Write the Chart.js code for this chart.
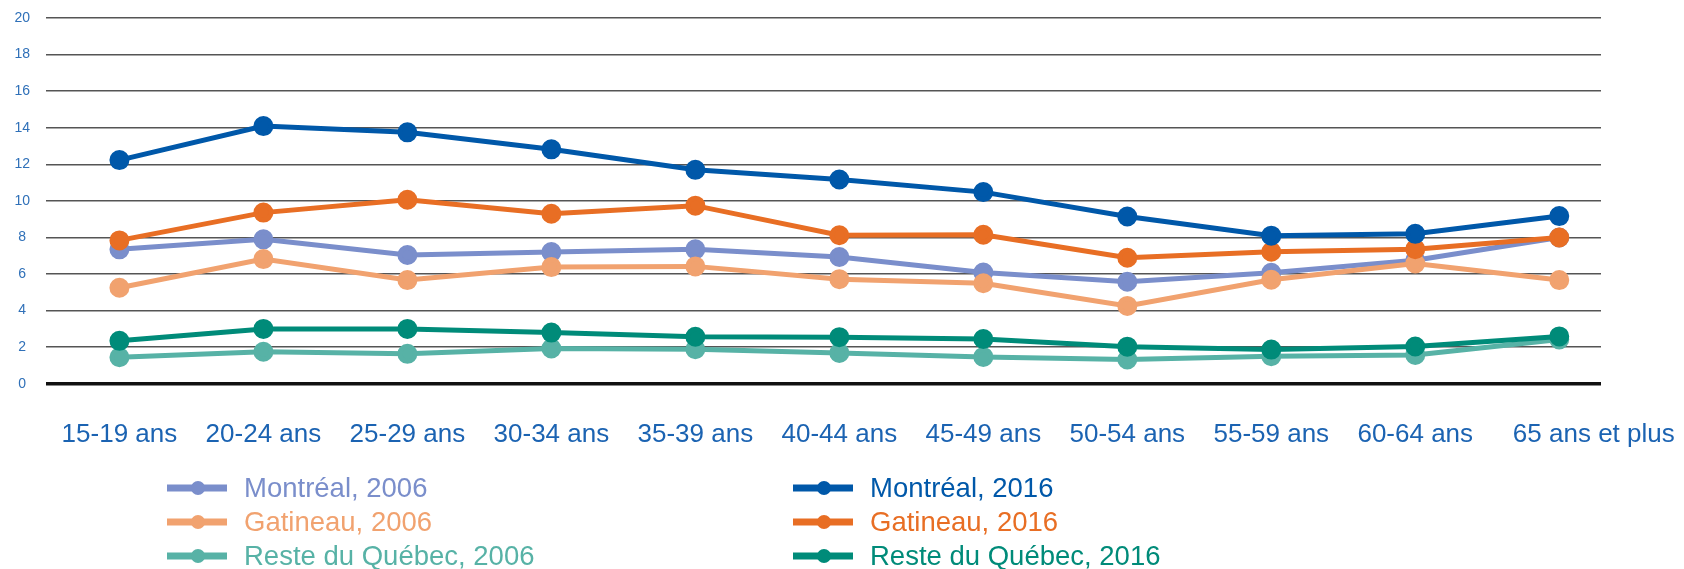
<!DOCTYPE html>
<html lang="fr">
<head>
<meta charset="utf-8">
<title>Taux par groupe d'âge</title>
<script src="https://cdn.jsdelivr.net/npm/chart.js@4"></script>
<style>
  body { margin: 0; background: #fff; }
  #wrap { position: relative; width: 1684px; height: 569px; overflow: hidden; }
  #legend { position: absolute; left: 0; top: 0; width: 1684px; height: 569px; pointer-events: none;
            font-family: "Liberation Sans", Arial, sans-serif; font-size: 27.5px; }
  .item { position: absolute; display: flex; align-items: center; height: 34px; white-space: nowrap; }
  .item canvas { margin-right: 17px; }
</style>
</head>
<body>
<div id="wrap">
  <canvas id="lineChart" width="1684" height="569"></canvas>
  <div id="legend"></div>
</div>
<script>
const categories = ["15-19 ans", "20-24 ans", "25-29 ans", "30-34 ans", "35-39 ans", "40-44 ans",
                    "45-49 ans", "50-54 ans", "55-59 ans", "60-64 ans", "65 ans et plus"];

const montreal2006 = [7.35, 7.9, 7.04, 7.2, 7.35, 6.93, 6.08, 5.58, 6.07, 6.75, 8.0];
const montreal2016 = [12.23, 14.09, 13.75, 12.82, 11.7, 11.17, 10.48, 9.15, 8.1, 8.2, 9.17];
const gatineau2006 = [5.25, 6.82, 5.67, 6.38, 6.42, 5.72, 5.5, 4.26, 5.69, 6.58, 5.67];
const gatineau2016 = [7.84, 9.36, 10.06, 9.3, 9.74, 8.12, 8.15, 6.89, 7.22, 7.36, 8.0];
const reste2006 = [1.45, 1.75, 1.64, 1.93, 1.89, 1.69, 1.47, 1.33, 1.51, 1.58, 2.42];
const reste2016 = [2.35, 3.0, 3.0, 2.8, 2.57, 2.55, 2.45, 2.03, 1.87, 2.04, 2.59];

const yMin = 0;
const yMax = 20;
const yStep = 2;

// legend is two columns: 2006 on the left, 2016 on the right
const series = [
  { label: "Montréal, 2006", data: montreal2006, color: "#7a8ecb", order: 6, col: 0, row: 0 },
  { label: "Gatineau, 2006", data: gatineau2006, color: "#f1a26f", order: 5, col: 0, row: 1 },
  { label: "Reste du Québec, 2006", data: reste2006, color: "#57b2a6", order: 4, col: 0, row: 2 },
  { label: "Montréal, 2016", data: montreal2016, color: "#0058a9", order: 1, col: 1, row: 0 },
  { label: "Gatineau, 2016", data: gatineau2016, color: "#e86e24", order: 2, col: 1, row: 1 },
  { label: "Reste du Québec, 2016", data: reste2016, color: "#008b79", order: 3, col: 1, row: 2 }
];

function toPoints(values) {
  return values.map((v, i) => ({ x: i, y: v }));
}

// the last (longer) label sits a little right of its point in the original
function tickValues() {
  return categories.map((c, i) => ({ value: i === categories.length - 1 ? i + 0.24 : i }));
}

function createLineChart() {
  let ctx = document.getElementById("lineChart").getContext("2d");
  let chart = new Chart(ctx, {
    type: 'line',
    data: {
      datasets: series.map(s => ({
        label: s.label,
        data: toPoints(s.data),
        borderColor: s.color,
        backgroundColor: s.color,
        pointBackgroundColor: s.color,
        pointBorderColor: s.color,
        borderWidth: 5,
        pointRadius: 7.5,
        pointHoverRadius: 7.5,
        tension: 0,
        order: s.order
      }))
    },
    options: {
      responsive: false,
      animation: false,
      devicePixelRatio: 1,
      events: [],
      layout: { padding: { top: 18, right: 83, bottom: 84, left: 0 } },
      plugins: { legend: { display: false }, tooltip: { enabled: false } },
      scales: {
        x: {
          type: 'linear',
          min: -0.51,
          max: 10.29,
          afterBuildTicks: scale => { scale.ticks = tickValues(); },
          // keep the plot area fixed, labels may spill into the margins
          afterFit: scale => { scale.paddingLeft = 0; scale.paddingRight = 0; },
          ticks: {
            autoSkip: false,
            maxRotation: 0,
            padding: 35,
            color: "#1b63b2",
            font: { family: "Liberation Sans", size: 26 },
            callback: (value, index) => categories[index]
          },
          grid: { display: false, drawTicks: false },
          border: { display: false }
        },
        y: {
          min: yMin,
          max: yMax,
          afterFit: scale => { scale.width = 46; scale.paddingTop = 0; scale.paddingBottom = 0; },
          ticks: {
            stepSize: yStep,
            padding: 16,
            crossAlign: 'center',
            color: "#2f70b8",
            font: { family: "Liberation Sans", size: 14 }
          },
          grid: {
            drawTicks: false,
            color: ctx => ctx.tick && ctx.tick.value === 0 ? "#111" : "#555",
            lineWidth: ctx => ctx.tick && ctx.tick.value === 0 ? 3.5 : 1.5
          },
          border: { display: false }
        }
      }
    }
  });
  return chart;
}

// small line + dot marker for each legend entry
function legendIcon(color) {
  let c = document.createElement("canvas");
  c.width = 60;
  c.height = 20;
  let g = c.getContext("2d");
  g.strokeStyle = color;
  g.lineWidth = 7;
  g.beginPath();
  g.moveTo(0, 10);
  g.lineTo(60, 10);
  g.stroke();
  g.fillStyle = color;
  g.beginPath();
  g.arc(31, 10, 7, 0, Math.PI * 2);
  g.fill();
  return c;
}

function createLegend() {
  const colX = [167, 793];
  const rowY = [471, 505, 539];
  let legend = document.getElementById("legend");
  series.forEach(s => {
    let item = document.createElement("div");
    item.className = "item";
    item.style.left = colX[s.col] + "px";
    item.style.top = rowY[s.row] + "px";
    item.style.color = s.color;
    item.appendChild(legendIcon(s.color));
    let text = document.createElement("span");
    text.textContent = s.label;
    item.appendChild(text);
    legend.appendChild(item);
  });
}

createLineChart();
createLegend();
</script>
</body>
</html>
